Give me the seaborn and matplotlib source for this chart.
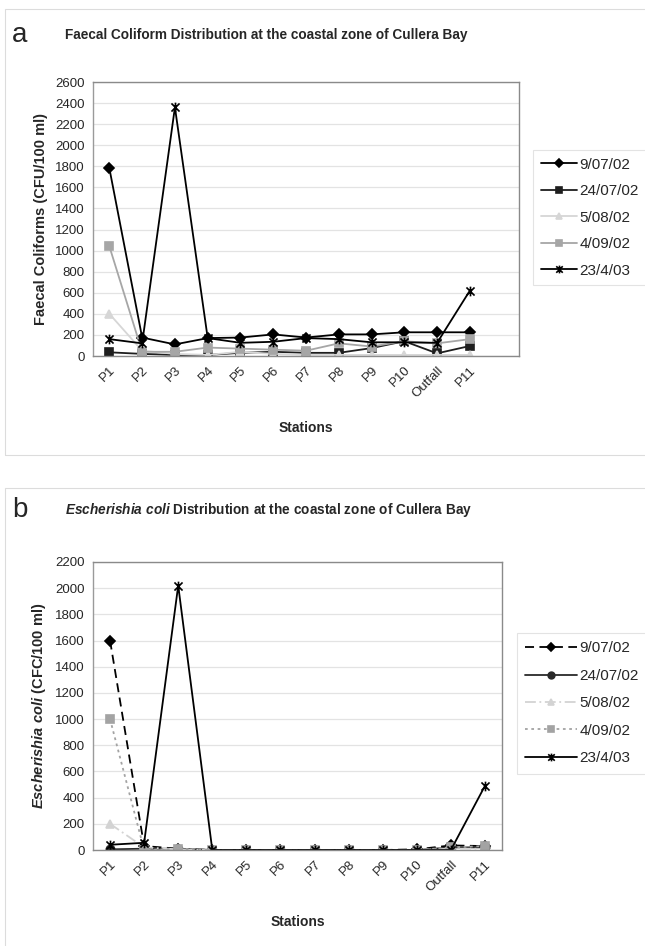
import matplotlib
matplotlib.use('Agg')
import matplotlib.pyplot as plt
import seaborn as sns
import numpy as np
from matplotlib.patches import Rectangle
from matplotlib.path import Path
from matplotlib.ticker import MultipleLocator, FixedLocator

# data
stations = ['P1', 'P2', 'P3', 'P4', 'P5', 'P6', 'P7', 'P8', 'P9', 'P10', 'Outfall', 'P11']
dates = ['9/07/02', '24/07/02', '5/08/02', '4/09/02', '23/4/03']

# a) faecal coliforms (CFU/100 ml)
fc_0907 = [1780, 175, 110, 170, 175, 205, 175, 205, 205, 225, 225, 225]
fc_2407 = [35, 20, 10, 10, 30, 40, 30, 30, 75, 140, 25, 95]
fc_0508 = [400, 50, 20, 10, 40, 20, 10, 10, 10, 10, 10, 10]
fc_0409 = [1040, 40, 40, 80, 70, 60, 50, 120, 90, 140, 120, 160]
fc_2304 = [160, 120, 2360, 170, 125, 135, 170, 160, 130, 130, 125, 620]

# b) Escherishia coli (CFC/100 ml)
ec_0907 = [1600, 30, 10, 0, 0, 0, 0, 0, 0, 5, 35, 30]
ec_2407 = [5, 10, 10, 0, 0, 0, 0, 0, 0, 0, 20, 20]
ec_0508 = [200, 20, 5, 0, 0, 0, 0, 0, 0, 0, 10, 10]
ec_0409 = [1000, 0, 10, 0, 0, 0, 0, 0, 0, 0, 20, 30]
ec_2304 = [40, 55, 2020, 0, 0, 0, 0, 0, 0, 0, 0, 490]

sns.set_style('white')
plt.rcParams['font.family'] = ['Liberation Sans', 'DejaVu Sans']
plt.rcParams['mathtext.fontset'] = 'custom'
plt.rcParams['mathtext.it'] = 'Liberation Sans:italic:bold'
plt.rcParams['mathtext.rm'] = 'Liberation Sans:bold'
plt.rcParams['mathtext.bf'] = 'Liberation Sans:bold'

# excel-like star marker: an X with a vertical bar
star = Path([(-1, -1), (1, 1), (-1, 1), (1, -1), (0, -1.2), (0, 1.2)],
            [Path.MOVETO, Path.LINETO, Path.MOVETO, Path.LINETO, Path.MOVETO, Path.LINETO])
x = np.arange(len(stations))

fig = plt.figure(figsize=(6.45, 9.46), dpi=100)
W, H = 645, 946

def fig_rect(l, t, r, b):
    return [l / W, 1 - b / H, (r - l) / W, (b - t) / H]

# panel frames
for (l, t, r, b) in [(5, 9, 660, 455), (5, 488, 660, 960)]:
    fig.patches.append(Rectangle((l / W, 1 - b / H), (r - l) / W, (b - t) / H,
                                 transform=fig.transFigure, fill=False,
                                 edgecolor='#dcdcdc', lw=0.8))

def style_axes(ax, ymax, nslots):
    ax.set_xlim(-0.5, nslots - 0.5)
    ax.set_ylim(0, ymax)
    ax.yaxis.set_major_locator(MultipleLocator(200))
    ax.grid(axis='y', color='#e3e3e3', lw=0.9)
    ax.set_axisbelow(True)
    for s in ax.spines.values():
        s.set_color('#8a8a8a')
        s.set_linewidth(1.0)
    ax.spines['left'].set_color('#9a9a9a')
    ax.set_xticks(x)
    ax.set_xticklabels(stations, rotation=45, ha='right', rotation_mode='anchor',
                       fontsize=9.5)
    ax.xaxis.set_minor_locator(FixedLocator(np.arange(-0.5, nslots, 1.0)))
    ax.tick_params(axis='x', which='major', length=0, pad=6)
    ax.tick_params(axis='x', which='minor', length=4, color='#9a9a9a', direction='out')
    ax.tick_params(axis='y', which='major', length=3, color='#9a9a9a',
                   direction='out', labelsize=9.5, pad=3)
    ax.set_xlabel('Stations', fontsize=10, fontweight='bold', labelpad=15)

# ---- panel a
ax1 = fig.add_axes(fig_rect(93, 82, 519, 356))
series_a = [fc_0907, fc_2407, fc_0508, fc_0409, fc_2304]
colors_a = ['black', '#1e1e1e', '#d6d6d6', '#a6a6a6', 'black']
markers_a = ['D', 's', '^', 's', star]
sizes_a = [5.5, 5.5, 6, 6, 7]
for vals, lab, c, m, ms in zip(series_a, dates, colors_a, markers_a, sizes_a):
    sns.lineplot(x=x, y=vals, ax=ax1, color=c, marker=m, markersize=ms,
                 markeredgecolor=c, markeredgewidth=1.2, lw=1.3, label=lab)
style_axes(ax1, 2600, 13)
ax1.set_ylabel('Faecal Coliforms (CFU/100 ml)', fontsize=10.5, fontweight='bold', labelpad=5)
leg1 = ax1.legend(loc='upper left', bbox_to_anchor=(533 / W, 1 - 150 / H),
                  bbox_transform=fig.transFigure, fontsize=11, frameon=True,
                  fancybox=False, edgecolor='#dcdcdc', handlelength=2.4,
                  handletextpad=0.15, labelspacing=0.82, borderpad=0.5,
                  borderaxespad=0, markerscale=0.8)
leg1.get_frame().set_linewidth(0.8)
fig.text(12 / W, 1 - 35 / H, 'a', fontsize=20, va='center', ha='left')
fig.text(65 / W, 1 - 35 / H, 'Faecal Coliform Distribution at the coastal zone of Cullera Bay',
         fontsize=9.8, fontweight='bold', va='center', ha='left')

# ---- panel b
ax2 = fig.add_axes(fig_rect(93, 562, 502, 850))
series_b = [ec_0907, ec_2407, ec_0508, ec_0409, ec_2304]
colors_b = ['black', '#2a2a2a', '#d3d3d3', '#a3a3a3', 'black']
markers_b = ['D', 'o', '^', 's', star]
styles_b = [(0, (5, 3)), '-', (0, (6, 2, 1, 2)), (0, (1.5, 2)), '-']
sizes_b = [5.5, 6, 6, 6, 7]
for vals, lab, c, m, ls, ms in zip(series_b, dates, colors_b, markers_b, styles_b, sizes_b):
    sns.lineplot(x=x, y=vals, ax=ax2, color=c, marker=m, markersize=ms,
                 markeredgecolor=c, markeredgewidth=1.2, lw=1.3, linestyle=ls, label=lab)
style_axes(ax2, 2200, 12)
ax2.set_ylabel(r'$Escherishia\ coli$ (CFC/100 ml)', fontsize=10.5, fontweight='bold', labelpad=5)
leg2 = ax2.legend(loc='upper left', bbox_to_anchor=(517 / W, 1 - 633 / H),
                  bbox_transform=fig.transFigure, fontsize=11, frameon=True,
                  fancybox=False, edgecolor='#dcdcdc', handlelength=3.4,
                  handletextpad=0.15, labelspacing=0.88, borderpad=0.55,
                  borderaxespad=0, markerscale=0.8)
leg2.get_frame().set_linewidth(0.8)
fig.text(12 / W, 1 - 510 / H, 'b', fontsize=20, va='center', ha='left')
fig.text(65 / W, 1 - 510 / H, r'$Escherishia\ coli$ Distribution at the coastal zone of Cullera Bay',
         fontsize=9.8, fontweight='bold', va='center', ha='left')

fig.savefig('out.png', dpi=100)
